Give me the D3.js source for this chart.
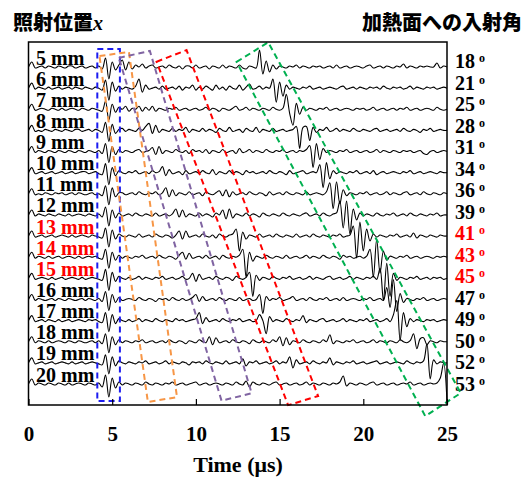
<!DOCTYPE html>
<html>
  <head>
    <meta charset="UTF-8" />
    <title>照射位置と入射角</title>
    <style>
      body,
      html {
        margin: 0;
        padding: 0;
        overflow: hidden;
        background: #fff;
      }
      .lbl {
        font-family: "Liberation Serif", "Times New Roman", serif;
        font-weight: bold;
      }
      .jp {
        font-family: "Noto Sans CJK JP", sans-serif;
        font-weight: 900;
      }
    </style>
  </head>
  <body>
    <svg id="chart"></svg>
    <script src="https://d3js.org/d3.v7.min.js"></script>
    <script>
      // irradiation positions (mm) and incidence angles on heated face (deg)
      const positions = [5, 6, 7, 8, 9, 10, 11, 12, 13, 14, 15, 16, 17, 18, 19, 20];
      const angles = [18, 21, 25, 28, 31, 34, 36, 39, 41, 43, 45, 47, 49, 50, 52, 53];
      const highlighted = [13, 14, 15];
      const timeTicks = [0, 5, 10, 15, 20, 25];
      const sampleStep = 0.2; // us between samples

      // waveforms, one array per position, sampled every 0.2 us from 0 to 25 us
      const wave5 = [0, 5, -1, 0, 1, -1, 1, 0, -1, 1, 0, -1, 1, 1, -1, 0, 1, -1, 0, 1, -1, 1, -2, 9, -12, 5, -3, 2, 7, -3, 5, -2, 2, 0, 3, -1, 1, 2, -1, 0, 1, -1, 2, 0, -1, 1, -2, 1, 1, -1, 2, -1, 0, 1, -2, 1, 0, -1, 2, -1, 1, 0, -1, 2, -1, -2, 1, 0, -1, 17, -7, 6, -5, 2, -2, 1, 0, -1, 1, 0, 2, -1, 1, 0, -1, 1, 0, 1, -1, 0, 1, -1, 2, -1, 0, 1, -1, 0, 1, 0, -1, 1, 2, -1, 0, 1, -1, 1, 0, -1, 1, 0, 3, -1, 1, 0, -1, 1, 0, 1, 0, 0, 4, -1, 1, 0];
      const wave6 = [0, 5, -1, 1, 0, -1, 1, -1, 0, 1, -1, 0, 1, -1, 1, 0, -1, 1, 0, -1, 1, 0, -2, 8, -12, 6, -3, 2, -1, 1, 0, -1, 2, 9, -4, 3, -1, 0, 1, -1, 2, -1, 0, 1, -1, 2, -2, 1, 0, 3, -2, 1, -1, 2, 0, -2, 3, -1, 1, -2, 2, 0, -1, 3, -2, 1, 4, -1, 0, 2, -1, 1, 0, 9, -14, 6, -8, 3, -1, 1, 0, -1, 1, 0, 2, -1, 0, 1, -1, 0, 1, 0, -1, 1, 2, -1, 0, 1, -1, 1, 0, -1, 1, 0, 1, -1, 2, 0, -1, 1, 0, 1, -1, 0, 2, -1, 1, 0, -1, 1, 0, 1, -1, 0, 1, 0];
      const wave7 = [0, 5, -1, 0, 1, 0, -1, 1, 0, -1, 1, -1, 0, 1, 0, -1, 1, 0, -1, 1, 0, -1, -2, 8, -11, 5, -3, 2, 0, 3, -2, 1, 0, 3, -2, 2, -1, 3, -2, 1, 0, -1, 1, 0, 2, -1, 0, 1, -1, 0, 1, -1, 0, 2, -1, 1, 0, -2, 1, 0, -1, 1, 3, -1, 0, 2, -1, 1, 0, -1, 1, 0, -1, 2, 0, -1, 1, 15, -4, -16, 6, -5, 2, -1, 1, 0, -1, 1, 0, 2, -1, 0, 1, -1, 0, 1, 0, -1, 1, 0, 1, -1, 0, 2, -1, 0, 1, -1, 0, 1, -1, 1, 0, 2, -1, 0, 1, -1, 0, 1, 0, -1, 2, 0, -1, 0];
      const wave8 = [0, 5, -1, 0, -1, 1, 0, -1, 1, 0, -1, 1, 0, -1, 1, 1, -1, 0, 1, -1, 1, 0, -2, 8, -11, 6, -3, 1, 2, -1, 1, 0, -1, 2, 0, 4, 7, -3, 5, -2, 1, 0, -1, 2, -1, 1, 0, 3, -2, 1, 0, -1, 2, -1, 1, 0, -2, 2, 0, -1, 3, -1, 0, 1, -2, 2, 0, -1, 3, -2, 1, 0, -1, 2, -1, 0, 1, -1, 0, 1, 4, -18, 3, 4, -10, 3, -2, 1, 0, 3, -1, 0, 2, -1, 1, 0, -1, 2, 0, -1, 1, 0, -1, 1, 2, -1, 0, 1, -1, 0, 1, -1, 2, 0, -1, 1, 0, -2, 1, 0, 2, -1, 0, 1, 0, 0];
      const wave9 = [0, 5, -1, 1, 0, -1, 1, 0, -1, 1, 0, -1, 1, 0, -1, 1, 0, -1, 1, 0, -1, 1, -2, 8, -11, 5, -3, 2, -1, 1, 0, -1, 1, 2, -1, 0, 1, 4, -3, 5, -2, 1, 0, -1, 2, 0, -1, 1, -2, 2, 0, 1, -1, 2, -2, 1, 0, -1, 2, -1, 0, 1, -2, 3, -1, 0, 2, -1, 1, 0, -1, 2, 0, -1, 1, 0, 2, -1, 0, 1, -1, 1, 0, 2, 6, -16, 8, -8, 3, -1, 1, 0, -1, 1, 0, 2, -1, 0, 1, -1, 0, 1, -1, 0, 2, -1, 1, 0, -1, 1, 0, -1, 1, 0, 1, -1, 0, 1, -2, -3, 0, 1, -1, 0, 1, 0];
      const wave10 = [0, 5, -1, 0, 1, -1, 0, 1, -1, 0, 1, -1, 0, 1, -1, 0, 1, 1, -1, 0, 1, -1, -2, 9, -12, 5, -3, 2, 0, -1, 1, 0, 2, -1, 0, 1, -1, 2, 0, 1, 6, -3, 3, -1, 0, 1, -2, 2, -1, 0, 1, -1, 2, 0, -1, 3, -2, 1, 0, -1, 2, -1, 1, 0, -2, 2, 0, 1, -1, 0, 1, -1, 2, 0, -1, 1, 0, -2, 2, -1, 0, 1, 2, -1, 0, 1, 0, 8, -15, 10, -6, 2, -1, 1, 0, -1, 1, 0, 2, -1, 0, 1, -1, 2, -2, 0, 1, -1, 0, 1, 0, -1, 1, 0, 2, -1, 0, 1, -1, 0, 1, 0, -1, 1, 0, 0];
      const wave11 = [0, 5, -1, 0, -1, 1, 0, -1, 1, 0, 1, -1, 0, 1, -1, 1, 0, -1, 0, 1, -1, 0, -2, 8, -11, 6, -3, 1, 1, -1, 0, 1, -1, 2, 0, -1, 1, 0, 2, -1, 1, 6, -3, 4, -2, 1, 0, -1, 2, -1, 0, 1, -2, 2, 0, -1, 1, 3, -2, 4, -3, 2, -1, 0, 1, -1, 2, 0, -1, 1, 0, -2, 2, -1, 0, 1, -1, 2, 0, -1, 1, 0, -1, 2, -1, 0, 1, 0, -1, 2, 11, -15, 12, -10, 4, -2, 1, 0, -1, 1, 0, 2, -1, 0, 1, -1, 0, 2, -1, 1, 0, -1, 1, 2, -1, 0, 1, -1, 2, 0, -1, 1, 0, -1, 1, 0];
      const wave12 = [0, 5, -1, 1, 0, -1, 1, 0, -1, 1, 0, -1, 1, -1, 0, 1, 0, -1, 1, 0, -1, 1, -2, 8, -11, 5, -3, 2, -1, 0, 1, -1, 2, 0, -1, 1, 0, -1, 2, -1, 0, 1, -1, 1, 6, -2, 5, -2, 1, 0, -1, 2, -1, 1, 0, -2, 2, 0, 5, -4, 6, -3, 1, 0, -1, 2, -1, 1, 0, -2, 2, 0, -1, 1, 0, -1, 2, 0, -1, 1, 0, -1, 1, 2, -1, 0, 1, -1, 2, 0, -1, 1, 2, 14, -13, 14, -19, 6, -5, 2, -1, 1, 0, -1, 2, 0, -1, 1, 0, 2, -1, 0, 1, -1, 2, 0, -1, 1, 0, -1, 1, 0, 2, -1, 0, 0];
      const wave13 = [0, 5, -1, 0, 1, -1, 0, 1, -1, 0, 1, 0, -1, 1, -1, 0, 1, 0, -1, 1, 0, -1, -2, 8, -11, 6, -3, 2, 0, -1, 1, 0, -1, 2, -1, 0, 1, -1, 2, 0, -1, 1, 0, -2, 1, 5, -3, 5, -1, 0, 1, -1, 2, 0, -1, 1, -2, 2, 0, -1, 1, 2, 7, -15, 4, -3, 1, 0, -1, 2, -1, 0, 1, -1, 2, 0, -1, 1, 0, -1, 2, -1, 0, 1, -1, 2, 0, -1, 1, 0, -1, 1, 0, 2, -1, 0, 1, 10, -22, 14, -15, 7, -5, 2, -1, 1, 0, -1, 1, 0, 2, -1, 0, 1, -1, 3, -2, 1, 0, -1, 1, 0, -1, 1, 0, 0];
      const wave14 = [0, 5, -1, 1, 0, -1, 1, -1, 0, 1, -1, 0, 1, 0, -1, 1, -1, 0, 1, 0, 1, -1, -2, 8, -11, 5, -3, 2, -1, 1, 0, -1, 1, 0, 2, -1, 0, 1, -1, 2, 0, -1, 1, 0, -2, 2, 5, -2, 4, -1, 0, 1, -1, 2, -1, 0, 1, -2, 2, 0, -1, 1, 0, 2, 8, -20, 5, -4, 1, 0, -1, 2, 0, -1, 1, 0, -1, 2, -1, 0, 1, -1, 0, 2, -1, 1, 0, -1, 2, 0, -1, 1, 0, -2, 2, 0, 1, -1, 0, 1, -1, 1, 8, -20, 18, -16, 6, -3, 1, 0, -1, 1, 0, 2, -1, 0, 1, -1, 0, 1, 0, -1, 1, 0, 1, 0];
      const wave15 = [0, 5, -1, 0, 1, 0, -1, 1, -1, 0, 1, -1, 0, 1, 0, -1, 1, -1, 0, 1, 0, -1, -2, 9, -12, 6, -3, 2, 0, -1, 1, -1, 0, 2, -1, 1, 0, -1, 1, 0, 2, -1, 0, 1, -1, 0, 2, -1, 0, 5, -3, 4, -1, 0, 1, -1, 2, 0, -1, 1, 0, -2, 2, 0, -1, 1, 6, -18, 3, -2, 1, 0, -1, 2, 0, -1, 1, 0, 2, -1, 0, 1, -1, 0, 2, -1, 1, 0, -1, 1, 2, -1, 0, 1, -1, 0, 2, -1, 1, 0, -1, 1, 0, 2, -1, 10, -22, 15, -18, 5, -2, 1, 0, -1, 1, 0, 2, -1, 0, 1, -1, 1, 0, 1, -1, 0];
      const wave16 = [0, 5, -1, 1, 0, -1, 0, 1, -1, 1, 0, -1, 1, 0, -1, 0, 1, -1, 1, 0, -1, 1, -2, 8, -11, 5, -3, 2, -1, 0, 1, 0, -1, 2, 0, -1, 1, 0, -2, 1, 0, 1, -1, 2, 0, -1, 1, -1, 0, 2, 5, -2, 3, -1, 0, 1, -1, 2, 0, -1, 1, 0, -1, 2, -1, 0, 1, -1, 0, 5, -14, 3, -1, 1, 0, 2, -1, 0, 1, 3, -1, 0, 1, -1, 2, 0, -1, 1, 0, 2, -1, 0, 1, -1, 2, -1, 0, 1, 0, -1, 1, 0, 2, -1, 0, 1, -1, 12, -8, 20, -12, 6, -3, 1, 0, -1, 1, 0, 2, -1, 0, 1, -1, 0, 1, 0];
      const wave17 = [0, 5, -1, 0, 1, -1, 1, 0, -1, 1, -1, 0, 1, -1, 0, 1, 0, -1, 1, 0, 1, -1, -2, 8, -11, 6, -3, 2, 0, -1, 1, -1, 0, 2, -1, 1, 0, -1, 2, 0, -1, 1, 0, -1, 2, 0, 1, -1, 0, 1, 2, 8, -3, 3, -1, 0, 1, -1, 2, 0, -1, 1, 0, 2, -1, 0, 1, -1, 0, 6, 0, -13, 4, -1, 1, 0, -1, 2, 0, -1, 1, 0, 5, -2, 1, 0, -1, 1, 2, -1, 0, 1, -1, 0, 2, -1, 1, 0, -1, 1, 0, 2, -1, 0, 1, -1, 0, 2, -1, 6, 20, -20, 8, -6, 2, -1, 1, 0, -1, 1, 0, 1, -1, 0, 1, 0];
      const wave18 = [0, 5, -1, 1, 0, -1, 1, -1, 0, 1, 0, -1, 1, 0, -1, 1, 0, -1, 0, 1, -1, 1, -2, 8, -11, 5, -3, 2, -1, 1, 0, -1, 1, 0, 2, -1, 0, 1, -1, 0, 1, -1, 2, 0, -1, 1, 0, -2, 1, 0, -1, 2, 0, -1, 5, -3, 4, -1, 0, 1, -1, 2, 0, -1, 1, 0, -2, 2, 0, -1, 1, 0, -1, 2, 0, 5, -4, 4, -3, 1, 0, -1, 2, 0, -1, 1, 0, -1, 2, 0, 7, -2, 1, 0, -1, 1, 0, 2, -1, 0, 1, -1, 0, 2, -1, 1, 0, -1, 1, 0, -1, 2, 0, -1, 1, 8, -7, 3, 4, -3, 1, 0, -1, 1, 0, 0];
      const wave19 = [0, 5, -1, 0, 1, -1, 0, 1, -1, 0, 1, 0, -1, 1, -1, 0, 1, -1, 0, 1, 0, -1, -2, 8, -11, 6, -3, 2, 0, -1, 1, 0, -1, 1, 0, 2, -1, 0, 1, -1, 0, 2, -1, 1, 0, -1, 1, 0, -2, 1, 0, 1, -1, 2, 0, -1, 1, 0, -1, 2, -1, 0, 1, -1, 4, -3, 1, 0, 2, -1, 0, 1, -1, 0, 2, -1, 1, 0, 6, -5, 3, -1, 0, 1, -1, 2, 0, -1, 1, 0, 5, -2, 1, 0, -1, 1, 0, 2, -1, 0, 1, -1, 0, 1, 2, -1, 0, 1, -1, 0, 1, 0, -1, 2, 0, -1, 1, 0, 2, 19, -16, 3, -1, 1, 0, 0];
      const wave20 = [0, 5, -1, 1, 0, -1, 1, 0, -1, 1, 0, -1, 1, -1, 0, 1, 0, -1, 1, 0, -1, 1, -3, 9, -13, 6, -4, 2, -1, 1, 0, -1, 1, 0, -1, 2, 0, -1, 1, 0, -1, 1, 0, 2, -1, 0, 1, -1, 0, 1, 2, -1, 0, 1, -1, 0, 1, 0, -1, 1, 0, -1, 2, 0, -1, 3, -3, 2, 0, -1, 1, 0, -1, 1, 2, -1, 0, 1, -1, 0, 1, -1, 0, 2, -1, 1, 0, -1, 1, 0, -1, 1, 0, 2, 8, -2, 1, 0, -1, 1, 0, -1, 1, 2, -1, 0, 1, -1, 0, 1, -1, 0, 1, 0, 2, -1, 0, 1, -1, 0, 1, 0, 1, 6, 21, -18];
      const waves = [wave5, wave6, wave7, wave8, wave9, wave10, wave11, wave12, wave13, wave14, wave15, wave16, wave17, wave18, wave19, wave20];

      // dashed windows as corners [time us, trace row]
      const blueBox = [[4.11, -0.85], [5.46, -0.85], [5.46, 15.81], [4.11, 15.81]];
      const orangeBox = [[4.24, -0.52], [6.0, -0.71], [8.87, 15.62], [7.13, 15.85]];
      const purpleBox = [[5.4, -0.43], [7.25, -0.76], [13.33, 15.44], [11.53, 15.79]];
      const redBox = [[7.65, -0.25], [9.44, -0.8], [17.3, 15.57], [15.51, 16.0]];
      const greenBox = [[12.43, -0.24], [14.32, -1.17], [25.82, 15.43], [23.7, 16.52]];
      const boxes = [
        { pts: blueBox, color: "#1c1cf0" },
        { pts: orangeBox, color: "#f79646" },
        { pts: purpleBox, color: "#8064a2" },
        { pts: redBox, color: "#ff0000" },
        { pts: greenBox, color: "#00b050" },
      ];

      const width = 529;
      const height = 477;
      const plot = { left: 28.5, right: 447, top: 42, bottom: 405 };

      const svg = d3.select("#chart").attr("width", width).attr("height", height);

      const x = d3.scaleLinear().domain([0, 25]).range([plot.left, plot.right]);
      const row = d3.scaleLinear().domain([0, 15]).range([67, 384]);
      const rightRow = d3.scaleLinear().domain([0, 15]).range([68, 390.5]);
      const amp = d3.scaleLinear().domain([-10, 10]).range([10, -10]);

      // traces
      waves.forEach((w, i) => {
        const line = d3
          .line()
          .x((d, k) => x(k * sampleStep))
          .y((d) => row(i) + amp(d))
          .curve(d3.curveCatmullRom);
        svg
          .append("path")
          .attr("d", line(w))
          .attr("fill", "none")
          .attr("stroke", "#000")
          .attr("stroke-width", 1.1);
      });

      // left labels (position)
      svg
        .selectAll(".pos")
        .data(positions)
        .enter()
        .append("text")
        .attr("class", "lbl pos")
        .attr("x", 36)
        .attr("y", (d, i) => row(i) - 2.5)
        .attr("font-size", 20)
        .attr("fill", (d) => (highlighted.includes(d) ? "#ff0000" : "#000"))
        .text((d) => d + " mm");

      // right labels (angle)
      const ang = svg
        .selectAll(".ang")
        .data(angles)
        .enter()
        .append("text")
        .attr("class", "lbl ang")
        .attr("x", 455)
        .attr("y", (d, i) => rightRow(i))
        .attr("font-size", 20)
        .attr("fill", (d, i) => (highlighted.includes(positions[i]) ? "#ff0000" : "#000"));
      ang.append("tspan").text((d) => d);
      ang.append("tspan").attr("dx", 4).attr("dy", -6).attr("font-size", 12).text("o");

      // dashed windows
      const poly = d3
        .line()
        .x((d) => x(d[0]))
        .y((d) => row(d[1]));
      boxes.forEach((b) => {
        svg
          .append("path")
          .attr("d", poly(b.pts) + "Z")
          .attr("fill", "none")
          .attr("stroke", b.color)
          .attr("stroke-width", 2)
          .attr("stroke-dasharray", "6,4");
      });

      // frame
      svg
        .append("rect")
        .attr("x", plot.left)
        .attr("y", plot.top)
        .attr("width", plot.right - plot.left)
        .attr("height", plot.bottom - plot.top)
        .attr("fill", "none")
        .attr("stroke", "#000")
        .attr("stroke-width", 1.5);

      const xAxis = svg
        .append("g")
        .attr("transform", `translate(0,${plot.bottom})`)
        .call(d3.axisBottom(x).tickValues(timeTicks).tickSize(-6).tickPadding(21).tickFormat(d3.format("d")));
      xAxis.select(".domain").remove();
      xAxis.selectAll("line").attr("stroke-width", 1.2);
      xAxis
        .selectAll("text")
        .attr("class", "lbl")
        .attr("font-size", 21)
        .attr("font-family", "Liberation Serif, serif")
        .attr("font-weight", "bold");

      svg
        .append("text")
        .attr("class", "lbl")
        .attr("x", 238)
        .attr("y", 472)
        .attr("text-anchor", "middle")
        .attr("font-size", 22)
        .text("Time (μs)");

      // titles
      const t1 = svg.append("text").attr("x", 13).attr("y", 29.5).attr("font-size", 20);
      t1.append("tspan").attr("class", "jp").text("照射位置");
      t1.append("tspan")
        .attr("class", "lbl")
        .attr("font-style", "italic")
        .text("x");

      svg
        .append("text")
        .attr("class", "jp")
        .attr("x", 522)
        .attr("y", 29.5)
        .attr("font-size", 20)
        .attr("text-anchor", "end")
        .text("加熱面への入射角");
    </script>
  </body>
</html>
